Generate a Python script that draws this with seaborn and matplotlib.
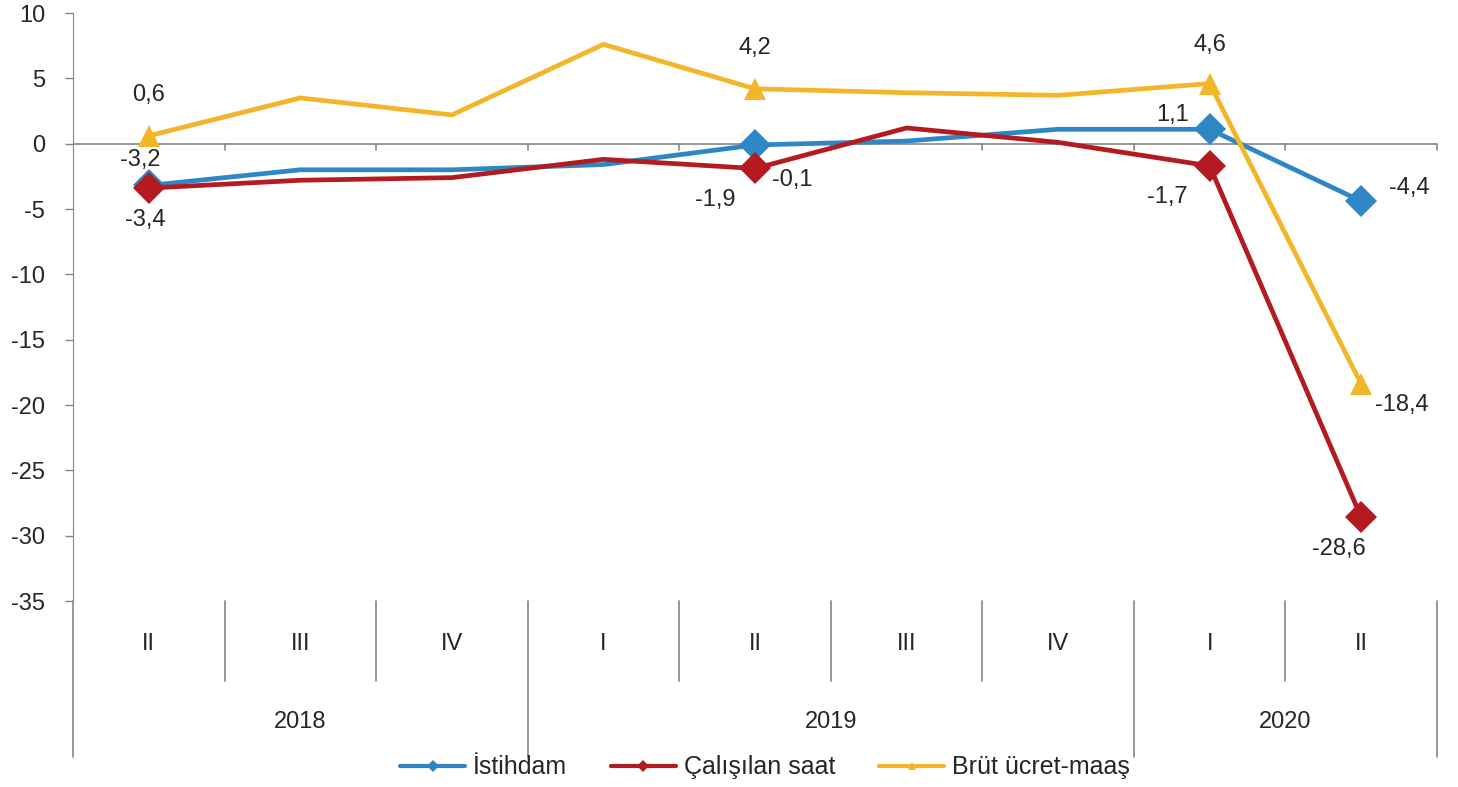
import numpy as np
import pandas as pd
import matplotlib
matplotlib.use("Agg")
import matplotlib.pyplot as plt
import matplotlib.transforms as mtransforms
from matplotlib.lines import Line2D
import seaborn as sns

# data
quarters = ["II", "III", "IV", "I", "II", "III", "IV", "I", "II"]
years = ["2018", "2019", "2020"]
year_spans = [(0, 3), (3, 7), (7, 9)]
istihdam = [-3.2, -2.0, -2.0, -1.6, -0.1, 0.2, 1.1, 1.1, -4.4]
calisilan_saat = [-3.4, -2.8, -2.6, -1.2, -1.9, 1.2, 0.1, -1.7, -28.6]
brut_ucret = [0.6, 3.5, 2.2, 7.6, 4.2, 3.9, 3.7, 4.6, -18.4]
marked = [0, 4, 7, 8]

series_names = ["İstihdam", "Çalışılan saat", "Brüt ücret-maaş"]
colors = ["#2F86C5", "#B31B20", "#F3B52A"]
markers = ["D", "D", "^"]
values = [istihdam, calisilan_saat, brut_ucret]

# label offsets in pixels (dx, dy) for each marked point
label_offsets = [
    [(-9, 25), (37, -35), (-37, 14), (48, 13)],
    [(-4, -32), (-40, -32), (-42, -31), (-22, -32)],
    [(0, 41), (0, 41), (0, 39), (41, -21)],
]

sns.set_style("white")
plt.rcParams["font.family"] = ["Liberation Sans", "DejaVu Sans"]
plt.rcParams["axes.unicode_minus"] = False

FS = 17
TXT = "#262626"

fig = plt.figure(figsize=(14.58, 7.87), dpi=100)
ax = fig.add_axes([73 / 1458, 1 - 601 / 787, (1437 - 73) / 1458, 588 / 787])

x = np.arange(len(quarters)) + 0.5
for name, vals, col, mk in zip(series_names, values, colors, markers):
    df = pd.DataFrame({"x": x, "y": vals})
    sns.lineplot(data=df, x="x", y="y", ax=ax, color=col, lw=3.4,
                 marker=mk, markevery=marked, markersize=16,
                 markeredgewidth=0, sort=False, legend=False, zorder=3)

px = 0.72  # points per pixel at 100 dpi
for vals, offs in zip(values, label_offsets):
    for idx, (dx, dy) in zip(marked, offs):
        txt = f"{vals[idx]:.1f}".replace(".", ",")
        ax.annotate(txt, (x[idx], vals[idx]), xytext=(dx * px, dy * px),
                    textcoords="offset points", ha="center", va="center",
                    fontsize=FS, color=TXT, zorder=4)

ax.set_xlim(0, 9)
ax.set_ylim(-35, 10)
ax.set_yticks(np.arange(-35, 11, 5))
ax.set_xticks([])
ax.set_xlabel("")
ax.set_ylabel("")
ax.tick_params(axis="y", direction="out", length=6, width=1, color="#868686",
               labelsize=FS, labelcolor=TXT, pad=14, left=True)
for s in ["top", "right", "bottom"]:
    ax.spines[s].set_visible(False)
ax.spines["left"].set_color("#868686")

# horizontal axis line at zero with tick marks
ax.axhline(0, color="#868686", lw=1.2, zorder=1)
for b in range(1, 10):
    ax.plot([b, b], [0, -0.45], color="#868686", lw=1.2, zorder=1, clip_on=False)

# multi-level category axis below
trans = mtransforms.blended_transform_factory(ax.transData, ax.transAxes)
year_bounds = [0, 3, 7, 9]
for b in range(0, 10):
    y_end = -0.265 if b in year_bounds else -0.136
    ax.plot([b, b], [0, y_end], color="#868686", lw=1.2, transform=trans, clip_on=False)
for xi, q in zip(x, quarters):
    ax.text(xi, -0.073, q, transform=trans, ha="center", va="center",
            fontsize=FS, color=TXT)
for yr, (a, b) in zip(years, year_spans):
    ax.text((a + b) / 2, -0.205, yr, transform=trans, ha="center", va="center",
            fontsize=FS, color=TXT)

handles = [Line2D([], [], color=c, lw=3, marker=m, markersize=6, markeredgewidth=0)
           for c, m in zip(colors, markers)]
fig.legend(handles, series_names, loc="center", bbox_to_anchor=(765 / 1458, 0.025),
           ncol=3, frameon=False, fontsize=18, handlelength=2.6, columnspacing=1.75,
           handletextpad=0.32, borderaxespad=0, borderpad=0)

fig.savefig("out.png", dpi=100, facecolor="white")
